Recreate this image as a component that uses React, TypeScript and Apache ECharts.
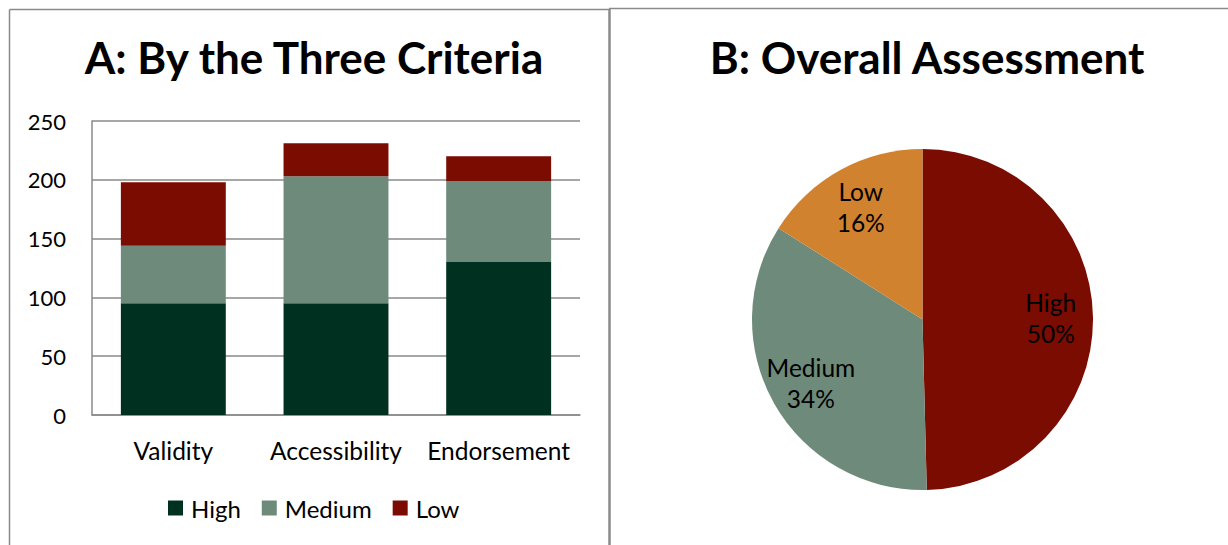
import React, { useEffect, useRef } from "react";
import * as echarts from "echarts";

const categories = ["Validity", "Accessibility", "Endorsement"];
const highValues = [95, 95, 130];
const mediumValues = [49, 108, 69];
const lowValues = [54, 28, 21];
const yTicks = { min: 0, max: 250, interval: 50 };

const pieNames = ["High", "Medium", "Low"];
const pieValues = [49.6, 34.4, 16.0];

const barColors = { High: "#003020", Medium: "#6E8A7A", Low: "#7B0C02" };
const pieColors = ["#7B0C02", "#6E8A7A", "#D0822F"];

const FONT = "Lato, 'Open Sans', sans-serif";

export default function App() {
  const ref = useRef<HTMLDivElement>(null);
  useEffect(() => {
    if (!ref.current) return;
    const chart = echarts.init(ref.current, undefined, { renderer: "svg" });
    const total = pieValues.reduce((a, b) => a + b, 0);
    const gray = "#8a8a8a";
    const titleStyle = { fontFamily: FONT, fontSize: 44, fontWeight: "bold", color: "#000" };
    chart.setOption({
      animation: false,
      backgroundColor: "#ffffff",
      title: [
        { text: "A: By the Three Criteria", left: 309, top: 30, textAlign: "center", textStyle: titleStyle },
        { text: "B: Overall Assessment", left: 922, top: 30, textAlign: "center", textStyle: titleStyle },
      ],
      legend: {
        data: ["High", "Medium", "Low"],
        left: 163,
        top: 491,
        itemWidth: 15,
        itemHeight: 15,
        itemGap: 21,
        icon: "rect",
        textStyle: { fontFamily: FONT, fontSize: 24, color: "#000", padding: [0, 0, 0, 3] },
      },
      grid: { left: 92, right: 648, top: 121, bottom: 130, containLabel: false },
      xAxis: {
        type: "category",
        data: categories,
        axisLine: { lineStyle: { color: gray, width: 1.5 } },
        axisTick: { show: false },
        axisLabel: { fontFamily: FONT, fontSize: 24.5, color: "#000", margin: 23, interval: 0 },
      },
      yAxis: {
        type: "value",
        min: yTicks.min,
        max: yTicks.max,
        interval: yTicks.interval,
        axisLine: { show: true, lineStyle: { color: gray, width: 1.5 } },
        axisTick: { show: false },
        axisLabel: { fontFamily: FONT, fontSize: 22, color: "#000", margin: 26 },
        splitLine: { lineStyle: { color: gray, width: 1.5 } },
      },
      series: [
        { name: "High", type: "bar", stack: "a", data: highValues, barWidth: "64.5%", itemStyle: { color: barColors.High } },
        { name: "Medium", type: "bar", stack: "a", data: mediumValues, barWidth: "64.5%", itemStyle: { color: barColors.Medium } },
        { name: "Low", type: "bar", stack: "a", data: lowValues, barWidth: "64.5%", itemStyle: { color: barColors.Low } },
        {
          name: "Overall",
          type: "pie",
          center: [922.5, 319.5],
          radius: [0, 170.5],
          startAngle: 90,
          clockwise: true,
          silent: true,
          label: { show: false },
          labelLine: { show: false },
          data: pieNames.map((n, i) => ({ name: n, value: pieValues[i], itemStyle: { color: pieColors[i] } })),
        },
        {
          name: "OverallLabels",
          type: "pie",
          center: [922.5, 319.5],
          radius: [80, 170.5],
          startAngle: 90,
          clockwise: true,
          silent: true,
          itemStyle: { color: "rgba(0,0,0,0)" },
          label: {
            show: true,
            position: "inside",
            fontFamily: FONT,
            fontSize: 24.5,
            lineHeight: 31,
            color: "#000",
            formatter: (p: any) => `${p.name}\n${Math.round((p.value / total) * 100)}%`,
          },
          labelLine: { show: false },
          data: pieNames.map((n, i) => ({ name: n, value: pieValues[i] })),
        },
      ],
      graphic: [
        { type: "line", shape: { x1: 9.5, y1: 9.5, x2: 609.5, y2: 9.5 }, style: { stroke: gray, lineWidth: 1.5 }, silent: true },
        { type: "line", shape: { x1: 9.5, y1: 9.5, x2: 9.5, y2: 545 }, style: { stroke: gray, lineWidth: 1.5 }, silent: true },
        { type: "line", shape: { x1: 609.5, y1: 9, x2: 609.5, y2: 545 }, style: { stroke: gray, lineWidth: 2.5 }, silent: true },
        { type: "line", shape: { x1: 609, y1: 8.5, x2: 1228, y2: 8.5 }, style: { stroke: gray, lineWidth: 1.5 }, silent: true },
      ],
    });
    return () => chart.dispose();
  }, []);
  return <div ref={ref} style={{ position: "absolute", left: 0, top: 0, width: 1228, height: 545 }} />;
}
